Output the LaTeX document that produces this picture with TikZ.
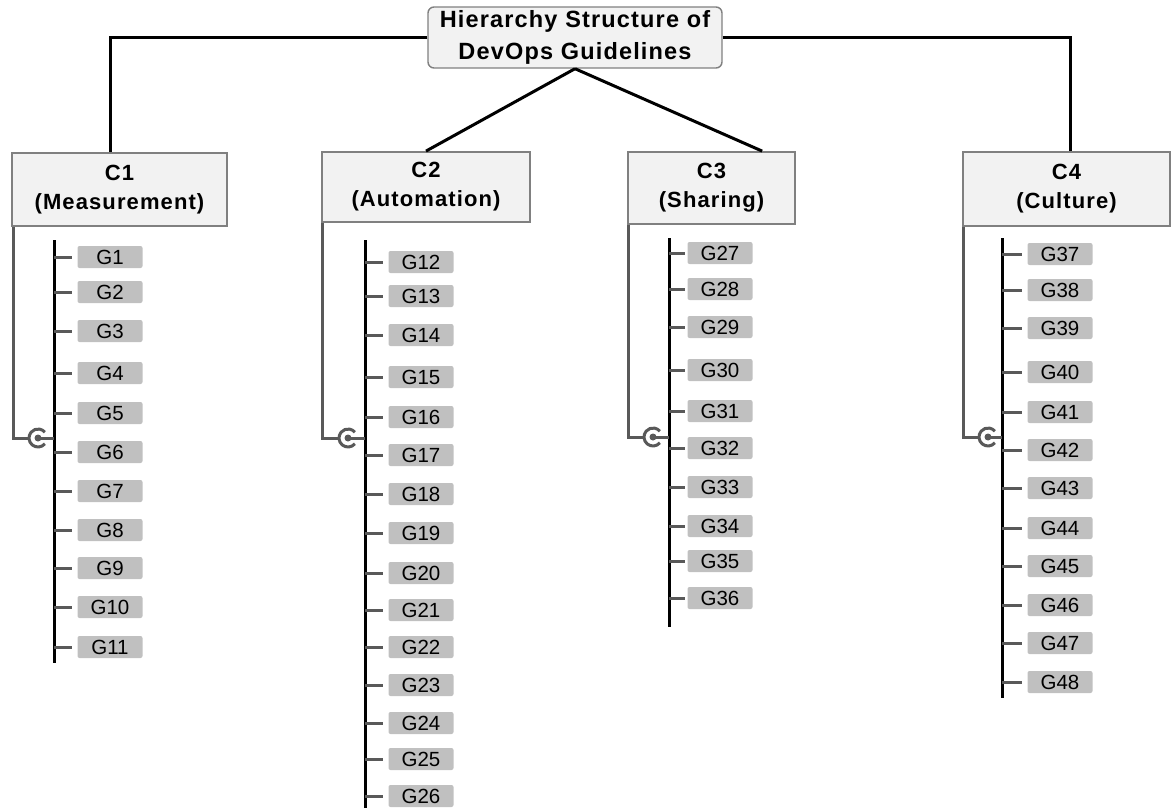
\documentclass[tikz,border=0pt]{standalone}
\usepackage{fontspec}
\setmainfont{Liberation Sans}
\newfontfamily\headfont[LetterSpace=5]{Liberation Sans}
\usepackage{tikz}
\usetikzlibrary{calc}

\definecolor{boxfill}{HTML}{F2F2F2}
\definecolor{boxline}{HTML}{808080}
\definecolor{gfill}{HTML}{C0C0C0}
\definecolor{linkgray}{HTML}{595959}

\begin{document}
\begin{tikzpicture}[x=1pt, y=-1pt,
  catbox/.style={draw=boxline, fill=boxfill, line width=1.8pt, align=center, inner sep=0pt,
                 font=\headfont\bfseries\fontsize{22}{29}\selectfont},
  topbox/.style={catbox, rounded corners=6pt, line width=1.4pt, minimum width=294pt, minimum height=61pt,
                 font=\headfont\bfseries\fontsize{23.5}{32}\selectfont},
  gbox/.style={fill=gfill, rounded corners=2pt, minimum width=65pt, minimum height=22pt, inner sep=0pt,
               font=\fontsize{20.5}{22}\selectfont},
  link/.style={line width=3pt, black},
  spine/.style={line width=3pt, black},
  tick/.style={line width=3pt, linkgray},
  bracket/.style={line width=3pt, linkgray},
]
  \useasboundingbox (0,0) rectangle (1173,808);

  % root and categories
  \node[topbox] (root) at (575,37.5) {Hierarchy Structure of\\DevOps Guidelines};
  \node[catbox, minimum width=215pt, minimum height=73pt] (c1) at (119.5,189.5) {C1\\(Measurement)};
  \node[catbox, minimum width=208pt, minimum height=70pt] (c2) at (426,187) {C2\\(Automation)};
  \node[catbox, minimum width=167pt, minimum height=72pt] (c3) at (711.5,188) {C3\\(Sharing)};
  \node[catbox, minimum width=207pt, minimum height=74pt] (c4) at (1066.5,189) {C4\\(Culture)};

  \draw[link] (root.west) -| ([xshift=-9.5pt]c1.north);
  \draw[link] (root.east) -| ([xshift=4pt]c4.north);
  \draw[link] (root.south) -- (c2.north);
  \draw[link] (root.south) -- ($(c3.north)!0.6!(c3.north east)$);

  % spines
  \coordinate (s1a) at (54,240);   \coordinate (s1b) at (54,663);
  \coordinate (s2a) at (365,240);  \coordinate (s2b) at (365,808);
  \coordinate (s3a) at (669,238);  \coordinate (s3b) at (669,627);
  \coordinate (s4a) at (1002,238); \coordinate (s4b) at (1002,698);
  \coordinate (k1) at (38,438);
  \coordinate (k2) at (348,438);
  \coordinate (k3) at (653,437);
  \coordinate (k4) at (988,437);

  \draw[spine] (s1a) -- (s1b);
  \draw[spine] (s2a) -- (s2b);
  \draw[spine] (s3a) -- (s3b);
  \draw[spine] (s4a) -- (s4b);

  % category brackets with socket
  \draw[bracket] ([xshift=2pt]c1.south west) |- ([xshift=-9pt]k1);
  \draw[bracket] ([xshift=1.5pt]c2.south west) |- ([xshift=-9pt]k2);
  \draw[bracket] ([xshift=1pt]c3.south west) |- ([xshift=-9pt]k3);
  \draw[bracket] ([xshift=1pt]c4.south west) |- ([xshift=-9pt]k4);
  \draw[bracket] (k1) ++(40:9) arc[start angle=40, end angle=320, radius=9];
  \draw[bracket] (k2) ++(40:9) arc[start angle=40, end angle=320, radius=9];
  \draw[bracket] (k3) ++(40:9) arc[start angle=40, end angle=320, radius=9];
  \draw[bracket] (k4) ++(40:9) arc[start angle=40, end angle=320, radius=9];
  \fill[linkgray] (k1) circle (3.5pt) (k2) circle (3.5pt) (k3) circle (3.5pt) (k4) circle (3.5pt);
  \draw[bracket] (k1) -- (k1 -| s1a);
  \draw[bracket] (k2) -- (k2 -| s2a);
  \draw[bracket] (k3) -- (k3 -| s3a);
  \draw[bracket] (k4) -- (k4 -| s4a);

  % guidelines
  \foreach \n/\y in {1/257,2/292,3/331,4/373,5/413,6/452,7/491,8/530,9/568,10/607,11/647} {
    \node[gbox] (g\n) at (110,\y) {G\n};
    \draw[tick] (g\n.west -| s1a) -- ([xshift=-5pt]g\n.west);
  }
  \foreach \n/\y in {12/262,13/296,14/335,15/377,16/417,17/455,18/494,19/533,20/573,
                     21/610,22/647,23/685,24/723,25/759,26/796} {
    \node[gbox] (g\n) at (421,\y) {G\n};
    \draw[tick] (g\n.west -| s2a) -- ([xshift=-5pt]g\n.west);
  }
  \foreach \n/\y in {27/253,28/289,29/327,30/370,31/411,32/448,33/487,34/526,35/561,36/598} {
    \node[gbox] (g\n) at (720,\y) {G\n};
    \draw[tick] (g\n.west -| s3a) -- ([xshift=-2pt]g\n.west);
  }
  \foreach \n/\y in {37/254,38/290,39/328,40/372,41/412,42/450,43/488,44/528,45/566,46/605,47/643,48/682} {
    \node[gbox] (g\n) at (1060,\y) {G\n};
    \draw[tick] (g\n.west -| s4a) -- ([xshift=-5pt]g\n.west);
  }
\end{tikzpicture}
\end{document}
